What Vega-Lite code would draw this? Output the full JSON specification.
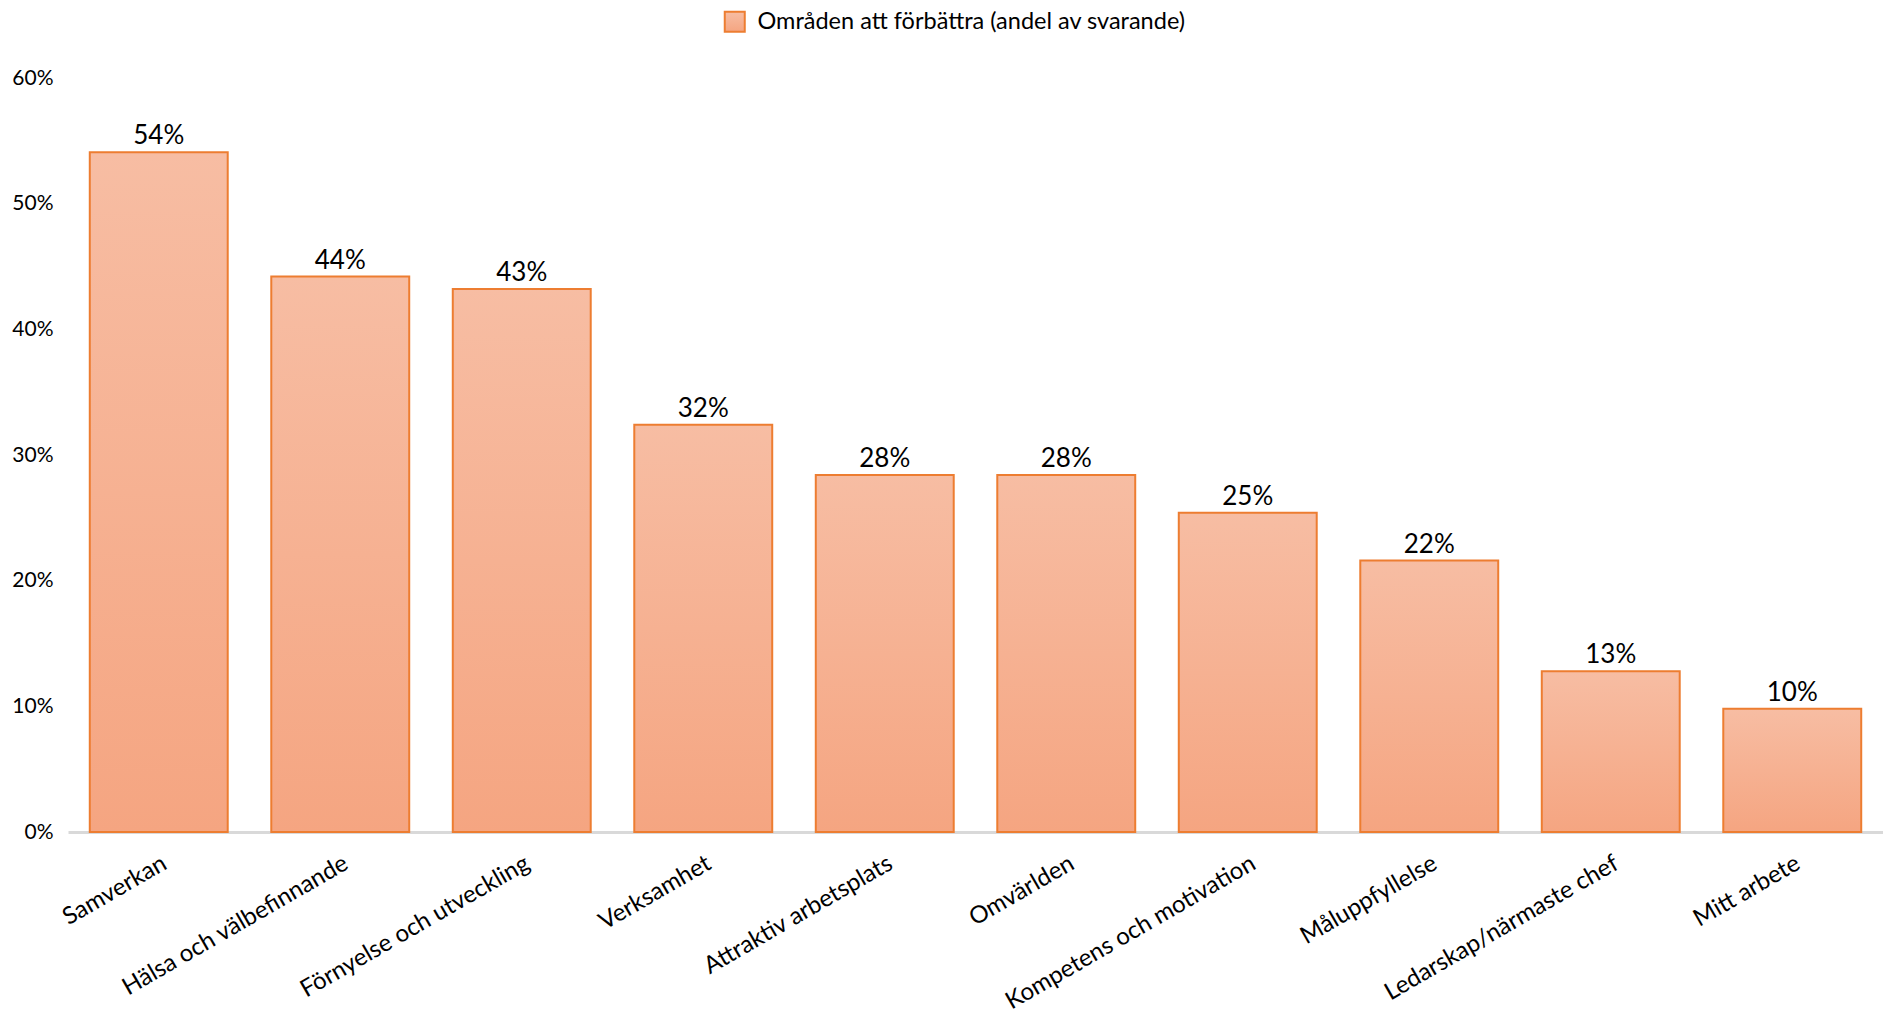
{
  "$schema": "https://vega.github.io/schema/vega-lite/v6.json",
  "width": 1815,
  "height": 754,
  "autosize": {"type": "none"},
  "padding": {"left": 68, "top": 78, "right": 0, "bottom": 184},
  "background": "white",
  "config": {"view": {"stroke": null}, "font": "Lato"},
  "data": {"values": [
    {"omrade": "Samverkan", "andel": 0.541},
    {"omrade": "Hälsa och välbefinnande", "andel": 0.442},
    {"omrade": "Förnyelse och utveckling", "andel": 0.432},
    {"omrade": "Verksamhet", "andel": 0.324},
    {"omrade": "Attraktiv arbetsplats", "andel": 0.284},
    {"omrade": "Omvärlden", "andel": 0.284},
    {"omrade": "Kompetens och motivation", "andel": 0.254},
    {"omrade": "Måluppfyllelse", "andel": 0.216},
    {"omrade": "Ledarskap/närmaste chef", "andel": 0.128},
    {"omrade": "Mitt arbete", "andel": 0.098}
  ]},
  "encoding": {
    "x": {
      "field": "omrade", "type": "nominal", "sort": null,
      "scale": {"paddingInner": 0.24, "paddingOuter": 0.12},
      "axis": {
        "title": null, "labelAngle": -30, "labelFontSize": 24, "labelColor": "#000000",
        "labelFont": "Lato", "ticks": false, "labelPadding": 19,
        "domainColor": "#D9D9D9", "domainWidth": 3, "labelLimit": 400
      }
    },
    "y": {
      "field": "andel", "type": "quantitative",
      "scale": {"domain": [0, 0.6], "nice": false},
      "axis": {
        "title": null, "format": ".0%", "values": [0, 0.1, 0.2, 0.3, 0.4, 0.5, 0.6],
        "grid": false, "domain": false, "ticks": false, "labelPadding": 15,
        "labelFontSize": 21, "labelColor": "#000000", "labelFont": "Lato"
      }
    }
  },
  "layer": [
    {
      "mark": {
        "type": "bar",
        "strokeWidth": 2,
        "fill": {
          "gradient": "linear", "x1": 0, "y1": 0, "x2": 0, "y2": 1,
          "stops": [{"offset": 0, "color": "#F7BDA3"}, {"offset": 1, "color": "#F5A581"}]
        }
      },
      "encoding": {
        "stroke": {
          "datum": "Områden att förbättra (andel av svarande)",
          "scale": {"range": ["#ED7D31"]},
          "legend": {
            "title": null, "orient": "none", "legendX": 655, "legendY": -68,
            "symbolType": "square", "symbolSize": 400, "symbolStrokeWidth": 2,
            "labelFontSize": 23.5, "labelFont": "Lato", "labelColor": "#000000", "labelOffset": 11,
            "labelLimit": 800, "padding": 0,
            "encode": {"symbols": {"update": {"fill": {"value": "#F7B699"}, "fillOpacity": {"value": 1}}}}
          }
        }
      }
    },
    {
      "mark": {"type": "text", "baseline": "alphabetic", "dy": -8, "fontSize": 26, "font": "Lato", "color": "#000000"},
      "encoding": {
        "text": {"field": "andel", "type": "quantitative", "format": ".0%"}
      }
    }
  ]
}
